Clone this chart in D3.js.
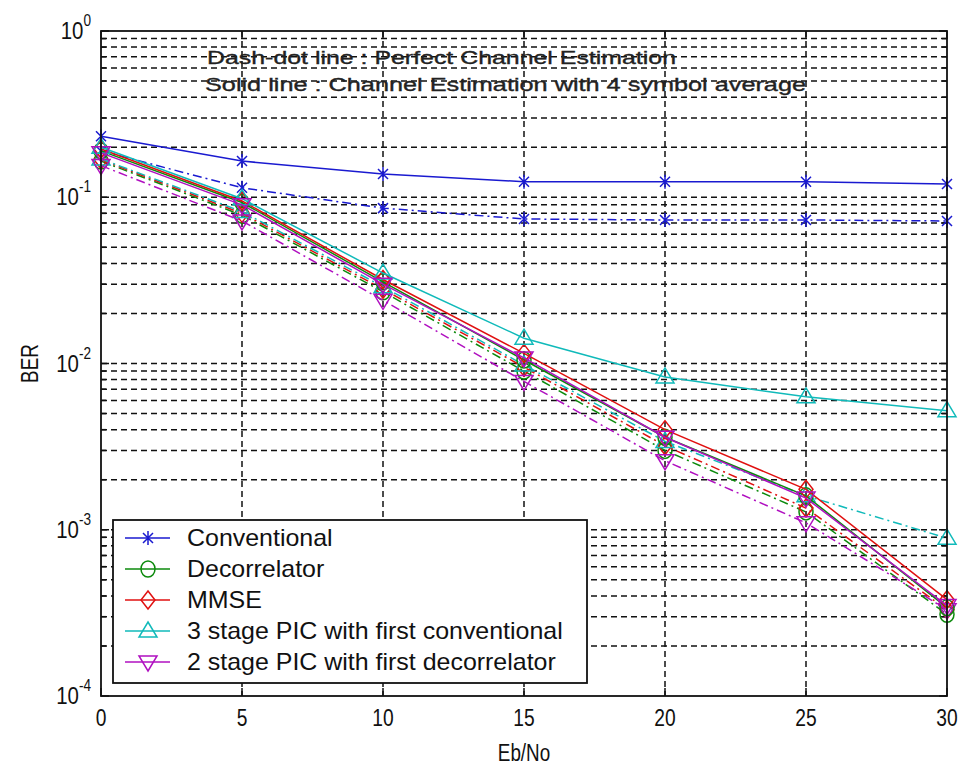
<!DOCTYPE html>
<html>
<head>
<meta charset="utf-8">
<script src="https://cdn.jsdelivr.net/npm/d3@7/dist/d3.min.js"></script>
<style>
  html, body { margin: 0; padding: 0; background: #fff; }
  svg text { font-family: "Liberation Sans", Arial, sans-serif; fill: #111; }
</style>
</head>
<body>
<svg id="chart" width="964" height="771"></svg>
<script>
// ---------------- DATA ----------------
const ebNo = [0, 5, 10, 15, 20, 25, 30];
const xTicks = [0, 5, 10, 15, 20, 25, 30];
const yTickExps = [0, -1, -2, -3, -4];

const seriesNames = [
  "Conventional",
  "Decorrelator",
  "MMSE",
  "3 stage PIC with first conventional",
  "2 stage PIC with first decorrelator"
];
const seriesColors = ["#1a1ad0", "#0c8a0c", "#e01010", "#10baba", "#b010c0"];
const seriesMarkers = ["star", "circle", "diamond", "triUp", "triDown"];

// Solid line: channel estimation with 4 symbol average
const convSolid    = [0.233, 0.165, 0.138, 0.124, 0.124, 0.124, 0.120];
const decorrSolid  = [0.190, 0.093, 0.031, 0.0105, 0.0036, 0.0016, 0.00034];
const mmseSolid    = [0.195, 0.095, 0.032, 0.0115, 0.0040, 0.00175, 0.00038];
const pic3Solid    = [0.200, 0.098, 0.035, 0.0142, 0.0083, 0.0063, 0.0052];
const pic2Solid    = [0.185, 0.090, 0.030, 0.0108, 0.0036, 0.00155, 0.00035];

// Dash-dot line: perfect channel estimation
const convPerfect   = [0.190, 0.114, 0.086, 0.074, 0.073, 0.073, 0.072];
const decorrPerfect = [0.165, 0.078, 0.027, 0.0090, 0.0030, 0.00128, 0.00031];
const mmsePerfect   = [0.168, 0.080, 0.028, 0.0095, 0.0032, 0.00135, 0.00033];
const pic3Perfect   = [0.170, 0.082, 0.029, 0.0098, 0.0034, 0.00160, 0.00089];
const pic2Perfect   = [0.155, 0.072, 0.024, 0.0078, 0.0026, 0.00110, 0.00033];

const solidSets   = [convSolid, decorrSolid, mmseSolid, pic3Solid, pic2Solid];
const perfectSets = [convPerfect, decorrPerfect, mmsePerfect, pic3Perfect, pic2Perfect];

const noteLines = [
  "Dash-dot line : Perfect Channel Estimation",
  "Solid line : Channel Estimation with 4 symbol average"
];

// ---------------- LAYOUT ----------------
const L = 101, R = 947, T = 31, B = 696;
const svg = d3.select("#chart");
const x = d3.scaleLinear().domain([0, 30]).range([L, R]);
const y = d3.scaleLog().domain([1e-4, 1]).range([B, T]);

svg.append("rect").attr("width", 964).attr("height", 771).attr("fill", "#fff");

// grid values (major + minor)
const gridVals = [];
for (let k = -4; k <= -1; k++) for (let m = 1; m <= 9; m++) gridVals.push(m * Math.pow(10, k));
gridVals.push(1);

const grid = svg.append("g").attr("stroke", "#111").attr("stroke-width", 1.5)
  .attr("stroke-dasharray", "6,4").attr("fill", "none");
grid.selectAll("line.h").data(gridVals.filter(v => v > 1e-4 && v < 1)).join("line")
  .attr("x1", L).attr("x2", R).attr("y1", d => y(d)).attr("y2", d => y(d));
grid.selectAll("line.v").data(xTicks.filter(v => v > 0 && v < 30)).join("line")
  .attr("class", "v").attr("y1", T).attr("y2", B).attr("x1", d => x(d)).attr("x2", d => x(d));

// ticks (inside)
const ticks = svg.append("g").attr("stroke", "#111").attr("stroke-width", 1.5);
gridVals.forEach(v => {
  const major = Math.abs(Math.log10(v) - Math.round(Math.log10(v))) < 1e-9;
  const len = major ? 8 : 5;
  ticks.append("line").attr("x1", L).attr("x2", L + len).attr("y1", y(v)).attr("y2", y(v));
  ticks.append("line").attr("x1", R).attr("x2", R - len).attr("y1", y(v)).attr("y2", y(v));
});
xTicks.forEach(v => {
  ticks.append("line").attr("x1", x(v)).attr("x2", x(v)).attr("y1", B).attr("y2", B - 8);
  ticks.append("line").attr("x1", x(v)).attr("x2", x(v)).attr("y1", T).attr("y2", T + 8);
});

// note text
const notes = svg.append("g");
const noteX = [207, 205], noteY = [64, 91], noteW = [469, 601];
noteLines.forEach((t, i) => {
  notes.append("text").attr("x", noteX[i]).attr("y", noteY[i])
    .attr("font-size", 19).attr("textLength", noteW[i]).attr("lengthAdjust", "spacingAndGlyphs")
    .style("fill", "#222").attr("stroke", "#222").attr("stroke-width", 0.35).text(t);
});

// markers
function drawMarker(g, type, cx, cy, color) {
  const s = g.append("g").attr("transform", `translate(${cx},${cy})`)
    .attr("stroke", color).attr("stroke-width", 1.5).attr("fill", "none");
  if (type === "star") {
    s.append("path").attr("d", "M-5,-5L5,5M-5,5L5,-5M0,-7L0,7");
  } else if (type === "circle") {
    s.append("ellipse").attr("rx", 7).attr("ry", 8);
  } else if (type === "diamond") {
    s.append("path").attr("d", "M0,-9L7,0L0,9L-7,0Z");
  } else if (type === "triUp") {
    s.append("path").attr("d", "M0,-9L9,6L-9,6Z");
  } else if (type === "triDown") {
    s.append("path").attr("d", "M0,9L9,-6L-9,-6Z");
  }
}

const line = d3.line().x((d, i) => x(ebNo[i])).y(d => y(d));
const plot = svg.append("g");

// perfect (dash-dot)
perfectSets.forEach((vals, si) => {
  plot.append("path").datum(vals).attr("d", line).attr("fill", "none")
    .attr("stroke", seriesColors[si]).attr("stroke-width", 1.5).attr("stroke-dasharray", "9,4,2,4");
  vals.forEach((v, i) => drawMarker(plot, seriesMarkers[si], x(ebNo[i]), y(v), seriesColors[si]));
});
// solid
solidSets.forEach((vals, si) => {
  plot.append("path").datum(vals).attr("d", line).attr("fill", "none")
    .attr("stroke", seriesColors[si]).attr("stroke-width", 1.5);
  vals.forEach((v, i) => drawMarker(plot, seriesMarkers[si], x(ebNo[i]), y(v), seriesColors[si]));
});

// axes box
svg.append("rect").attr("x", L).attr("y", T).attr("width", R - L).attr("height", B - T)
  .attr("fill", "none").attr("stroke", "#111").attr("stroke-width", 1.8);

// tick labels
yTickExps.forEach(e => {
  const g = svg.append("g").attr("transform", `translate(91,${y(Math.pow(10, e)) + 8}) scale(0.85,1)`);
  const t = g.append("text").attr("text-anchor", "end").attr("font-size", 24);
  t.append("tspan").text("10");
  t.append("tspan").attr("font-size", 16).attr("dy", -13).text(String(e));
});
xTicks.forEach(v => {
  svg.append("g").attr("transform", `translate(${x(v)},726) scale(0.8,1)`)
    .append("text").attr("text-anchor", "middle").attr("font-size", 24).text(String(v));
});

// axis labels
svg.append("g").attr("transform", `translate(${(L + R) / 2},761) scale(0.82,1)`)
  .append("text").attr("text-anchor", "middle").attr("font-size", 23).text("Eb/No");
svg.append("g").attr("transform", `translate(38,${(T + B) / 2}) rotate(-90) scale(0.82,1)`)
  .append("text").attr("text-anchor", "middle").attr("font-size", 23).text("BER");

// legend
const lg = svg.append("g");
const lgTop = 520, lgRow = 31, lgFirst = 538;
lg.append("rect").attr("x", 113).attr("y", lgTop).attr("width", 474)
  .attr("height", lgFirst + lgRow * 4 + 21 - lgTop)
  .attr("fill", "#fff").attr("stroke", "#111").attr("stroke-width", 1.8);
seriesNames.forEach((name, i) => {
  const yy = lgFirst + i * lgRow;
  lg.append("line").attr("x1", 125).attr("x2", 170).attr("y1", yy).attr("y2", yy)
    .attr("stroke", seriesColors[i]).attr("stroke-width", 1.5);
  drawMarker(lg, seriesMarkers[i], 148, yy, seriesColors[i]);
  lg.append("g").attr("transform", `translate(187,${yy + 8}) scale(1.04,1)`)
    .append("text").attr("font-size", 24).text(name);
});
</script>
</body>
</html>
